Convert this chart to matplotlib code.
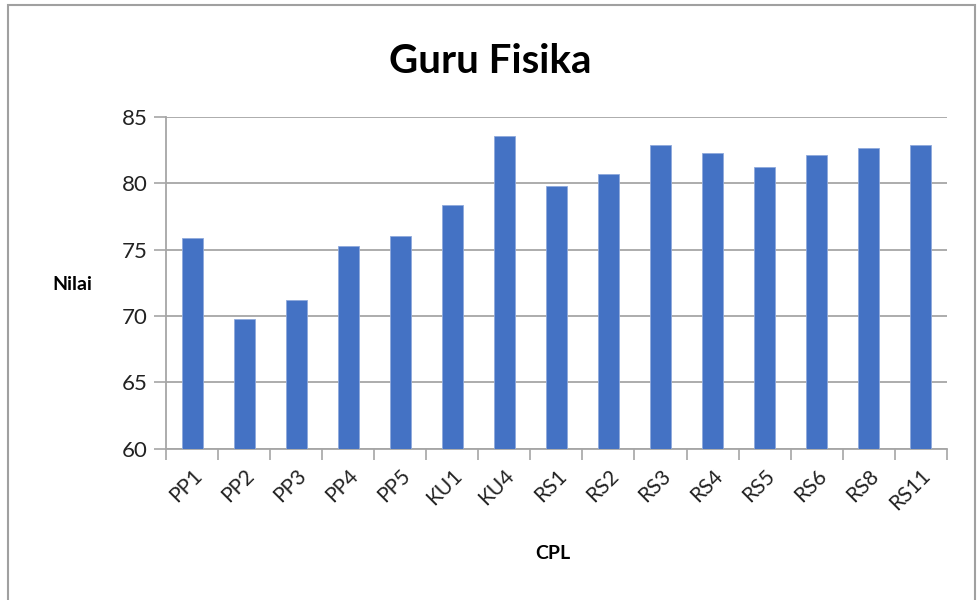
import matplotlib.pyplot as plt
from matplotlib.patches import Rectangle
import numpy as np

# data
cpl = ['PP1', 'PP2', 'PP3', 'PP4', 'PP5', 'KU1', 'KU4', 'RS1', 'RS2',
       'RS3', 'RS4', 'RS5', 'RS6', 'RS8', 'RS11']
nilai = [75.9, 69.8, 71.2, 75.3, 76.0, 78.4, 83.6, 79.8, 80.7,
         82.9, 82.3, 81.2, 82.1, 82.7, 82.9]
y_ticks = [60, 65, 70, 75, 80, 85]

plt.rcParams['font.family'] = ['Lato', 'DejaVu Sans']

fig = plt.figure(figsize=(9.77, 6), dpi=100)
ax = fig.add_axes([0.170, 0.252, 0.799, 0.553])

# outer chart frame (bottom edge runs off the picture)
fig.patches.append(Rectangle((8 / 977, -0.05), 967 / 977, 1.05 - 5 / 600,
                             transform=fig.transFigure, fill=False,
                             edgecolor='#a0a0a0', linewidth=1.5))

x = np.arange(len(cpl))
ax.bar(x, nilai, width=0.4, color='#4472C4', edgecolor='#8fa9dc',
       linewidth=0.6, zorder=3)

ax.set_ylim(60, 85)
ax.set_xlim(-0.5, len(cpl) - 0.5)
ax.set_yticks(y_ticks)
ax.tick_params(axis='y', labelsize=16, length=9, color='#a6a6a6',
               width=1.2, labelcolor='#222222', pad=4)
ax.grid(axis='y', color='#a6a6a6', linewidth=1.3, zorder=0)

# category ticks between bars, labels centred on bars
ax.set_xticks(np.arange(len(cpl) + 1) - 0.5)
ax.set_xticklabels([])
ax.set_xticks(x, minor=True)
ax.set_xticklabels(cpl, minor=True, rotation=45, ha='right',
                   rotation_mode='anchor', fontsize=15, color='#222222')
ax.tick_params(axis='x', which='major', length=8, color='#a6a6a6', width=1.2)
ax.tick_params(axis='x', which='minor', length=0, pad=12)

for side in ['top', 'right']:
    ax.spines[side].set_visible(False)
for side in ['left', 'bottom']:
    ax.spines[side].set_color('#a6a6a6')
    ax.spines[side].set_linewidth(1.3)

fig.text(0.502, 0.898, 'Guru Fisika', ha='center', va='center',
         fontsize=29, fontweight='bold')
fig.text(0.074, 0.525, 'Nilai', ha='center', va='center',
         fontsize=14, fontweight='bold')
fig.text(0.566, 0.078, 'CPL', ha='center', va='center',
         fontsize=14, fontweight='bold')

fig.savefig('out.png', dpi=100, facecolor='white')
